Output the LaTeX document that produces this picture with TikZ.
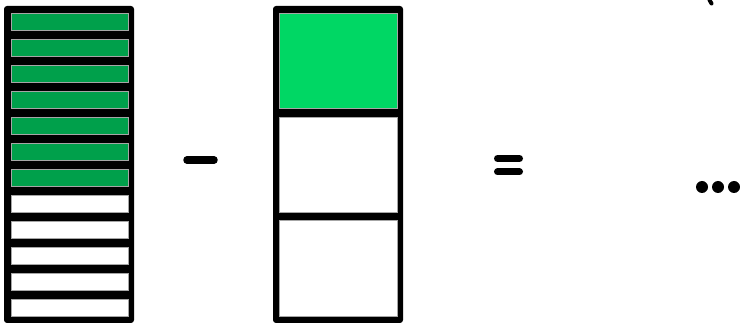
\documentclass[tikz,border=0pt]{standalone}
\definecolor{dkgreen}{RGB}{0,160,75}
\definecolor{ltgreen}{RGB}{0,215,100}
\begin{document}
\begin{tikzpicture}[x=1pt,y=-1pt,
  frame/.style={fill=black, rounded corners=3pt},
  cell/.style={draw=black!35, line width=0.3pt},
  op/.style={line width=7.5pt, line cap=round}]
\useasboundingbox (0,0) rectangle (740,323);
% left bar: 12 strips
\fill[frame] (4,6) rectangle (134,323);
\foreach \i in {0,...,6}
  \filldraw[cell, fill=dkgreen] (11,{13+26*\i}) rectangle (128,{30+26*\i});
\foreach \i in {7,...,11}
  \filldraw[cell, fill=white] (11,{13+26*\i}) rectangle (128,{30+26*\i});
% minus
\draw[op] (187,160) -- (214,160);
% middle bar: 3 cells
\fill[frame] (273,6) rectangle (403,323);
\filldraw[cell, fill=ltgreen] (279,13) rectangle (397,108);
\filldraw[cell, fill=white] (279,117) rectangle (397,212);
\filldraw[cell, fill=white] (279,220) rectangle (397,316);
% equals
\draw[line width=7pt, line cap=round] (497.5,158.5) -- (519.5,158.5);
\draw[line width=7pt, line cap=round] (497.5,172) -- (519.5,172);
% dots
\foreach \x in {702,718,734}
  \fill (\x,187) circle (6);
% cut-off mark at top right
\draw[line width=4pt, line cap=round] (709.5,0) -- (711.5,3.5);
\end{tikzpicture}
\end{document}
